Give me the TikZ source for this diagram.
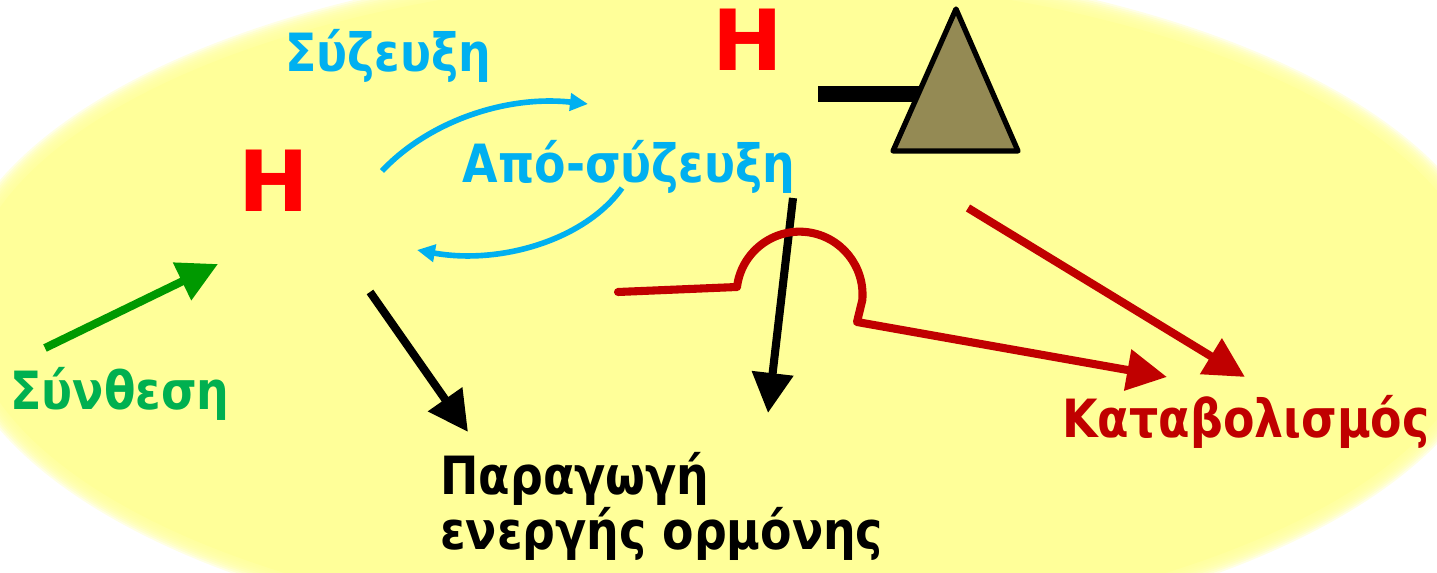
\documentclass[tikz,border=0pt]{standalone}
\usepackage{fontspec}
\setmainfont{DejaVu Sans}[FakeStretch=0.87]
\newfontfamily\hfont{DejaVu Sans}
\usetikzlibrary{arrows.meta}
\definecolor{bgyellow}{RGB}{255,255,153}
\definecolor{synblue}{RGB}{0,176,240}
\definecolor{syngreen}{RGB}{0,176,80}
\definecolor{arrgreen}{RGB}{0,153,0}
\definecolor{catred}{RGB}{192,0,0}
\definecolor{hred}{RGB}{255,0,0}
\definecolor{receptor}{RGB}{148,138,84}
\tikzset{
  lbl/.style={inner sep=0pt, font=\fontsize{30}{32}\selectfont\bfseries},
  hletter/.style={inner sep=0pt, text=hred, font=\hfont\fontsize{48}{50}\selectfont\bfseries},
  bigarrow/.style={line width=4.6pt, -{Triangle[length=0.8cm, width=0.8cm]}},
  bluearrow/.style={line width=3.2pt, synblue, -{Triangle[length=0.36cm, width=0.34cm]}},
}
\begin{document}
\begin{tikzpicture}[x=0.02cm, y=-0.02cm]
\useasboundingbox (0,0) rectangle (1437,573);
\clip (0,0) rectangle (1437,573);
% soft yellow background
\foreach \d in {0,...,9}
  \fill[bgyellow, opacity=0.25] (725,305) ellipse ({777-2*\d} and {347-2*\d});
\fill[bgyellow] (725,305) ellipse (759 and 329);

% labels
\node[hletter, anchor=base] (hleft) at (274,212) {H};
\node[hletter, anchor=base] (htop) at (748,71) {H};
\node[lbl, text=synblue, anchor=base] (conj) at (388,72) {Σύζευξη};
\node[lbl, text=synblue, anchor=base] (deconj) at (629,183) {Από-σύζευξη};
\node[lbl, text=syngreen, anchor=base] (synth) at (120,410) {Σύνθεση};
\node[lbl, anchor=base west] (prod) at (440,495) {Παραγωγή};
\node[lbl, anchor=base west] (active) at (440,550) {ενεργής ορμόνης};
\node[lbl, text=catred, anchor=base] (catab) at (1246,438) {Καταβολισμός};

% receptor
\coordinate (barstart) at (818,94);
\coordinate (barend) at (922,94);
\coordinate (rleft) at (893,151);
\coordinate (rtop) at (956,9);
\coordinate (rright) at (1018,151);
\draw[line width=9pt] (barstart) -- (barend);
\draw[line width=3pt, line join=round, fill=receptor] (rleft) -- (rtop) -- (rright) -- cycle;

% end points
\coordinate (g1) at (45,348);
\coordinate (g2) at (218,264);
\coordinate (b1) at (370,292);
\coordinate (b2) at (468,432);
\coordinate (b3) at (793,198);
\coordinate (b4) at (768,413);
\coordinate (r1) at (618,292);
\coordinate (r2) at (737,287);
\coordinate (r3) at (857,322);
\coordinate (r4) at (1167,377);
\coordinate (r5) at (968,208);
\coordinate (r6) at (1245,377);
\coordinate (c1) at (382,171);
\coordinate (c2) at (588,104);
\coordinate (d1) at (622,188);
\coordinate (d2) at (417,250);

% arrows
\draw[bigarrow, arrgreen] (g1) -- (g2);
\draw[bigarrow, black] (b1) -- (b2);
\draw[bigarrow, black] (b3) -- (b4);
\draw[bigarrow, catred, line join=round, line cap=round] (r1) -- (r2)
  arc[start angle=187, end angle=365, radius=63] -- (r3) -- (r4);
\draw[bigarrow, catred] (r5) -- (r6);
\draw[bluearrow] (c1) .. controls (428,122) and (505,95) .. (c2);
\draw[bluearrow] (d1) .. controls (585,240) and (500,265) .. (d2);
\end{tikzpicture}
\end{document}
